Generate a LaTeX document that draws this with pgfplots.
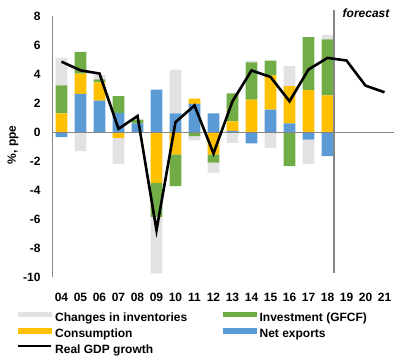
\documentclass[border=0pt]{standalone}
\usepackage{pgfplots}
\usepackage{pgfplotstable}
\pgfplotsset{compat=1.18}
\usepackage{fontspec}
\setmainfont{Liberation Sans}
\definecolor{cinv}{HTML}{E2E2E2}
\definecolor{cgfcf}{HTML}{70AD47}
\definecolor{ccons}{HTML}{FFC000}
\definecolor{cnex}{HTML}{5B9BD5}
\definecolor{caxis}{HTML}{868686}

% x: 0=2004 ... 14=2018 ; ne = net exports, co = consumption, in = investment (GFCF), ci = changes in inventories
\pgfplotstableread{
x ne co in ci
0 -0.35 1.28 1.93 1.90
1 2.63 1.40 1.50 -1.32
2 2.17 1.26 0.20 0.30
3 1.32 -0.40 1.15 -1.79
4 0.60 0.00 0.25 0.00
5 2.93 -3.50 -2.35 -3.90
6 1.28 -1.55 -2.19 3.03
7 1.94 0.37 -0.29 -0.28
8 1.28 -1.55 -0.57 -0.69
9 0.08 0.66 1.92 -0.75
10 -0.79 2.24 2.57 0.12
11 1.55 2.35 1.03 -1.09
12 0.59 2.57 -2.36 1.38
13 -0.52 2.88 3.66 -1.67
14 -1.67 2.52 3.86 0.34
}\comp

\pgfplotstableread{
x gdp
0 4.85
1 4.25
2 4.03
3 0.22
4 1.10
5 -6.77
6 0.68
7 1.83
8 -1.48
9 2.12
10 4.24
11 3.80
12 2.12
13 4.31
14 5.11
15 4.93
16 3.20
17 2.74
}\gdp

\pgfplotsset{
  base/.style={
    width=342pt, height=261pt, scale only axis,
    xmin=-0.5, xmax=17.5, ymin=-10, ymax=8,
    clip=false,
  },
  barbase/.style={base, ybar stacked, bar width=11.7pt},
}

\begin{document}
\begin{tikzpicture}[font=\bfseries\fontsize{12}{14}\selectfont]
\useasboundingbox (-52pt,-82pt) rectangle (355pt,277pt);
% positive parts
\begin{axis}[barbase,
  axis lines*=left,
  x axis line style={draw=none},
  y axis line style={draw=caxis, line width=0.9pt, -},
  xtick={0,1,...,17},
  xticklabels={04,05,06,07,08,09,10,11,12,13,14,15,16,17,18,19,20,21},
  ytick={-10,-8,-6,-4,-2,0,2,4,6,8},
  yticklabels={-10,-8,-6,-4,-2,0,2,4,6,8},
  major tick length=0pt,
  tick label style={font=\bfseries\fontsize{12}{14}\selectfont},
  xticklabel style={anchor=base, yshift=-24.5pt},
  yticklabel style={anchor=east, xshift=-8pt},
  ylabel={\%, ppe},
  every axis y label/.style={at={(axis description cs:-0.114,0.506)}, rotate=90, anchor=center},
]
\addplot[fill=cnex, draw=none] table[x=x, y expr={max(\thisrow{ne},0)}]{\comp};
\addplot[fill=ccons, draw=none] table[x=x, y expr={max(\thisrow{co},0)}]{\comp};
\addplot[fill=cgfcf, draw=none] table[x=x, y expr={max(\thisrow{in},0)}]{\comp};
\addplot[fill=cinv, draw=none] table[x=x, y expr={max(\thisrow{ci},0)}]{\comp};
\end{axis}
% negative parts
\begin{axis}[barbase, hide axis]
\addplot[fill=cnex, draw=none] table[x=x, y expr={min(\thisrow{ne},0)}]{\comp};
\addplot[fill=ccons, draw=none] table[x=x, y expr={min(\thisrow{co},0)}]{\comp};
\addplot[fill=cgfcf, draw=none] table[x=x, y expr={min(\thisrow{in},0)}]{\comp};
\addplot[fill=cinv, draw=none] table[x=x, y expr={min(\thisrow{ci},0)}]{\comp};
\end{axis}
% line, zero line, forecast, legend
\begin{axis}[base, hide axis,
  legend columns=2,
  legend cell align=left,
  legend style={draw=none, fill=none, inner sep=0pt,
    at={(axis description cs:-0.1023,-0.132)}, anchor=north west,
    font=\bfseries\fontsize{12}{14}\selectfont,
    row sep=4.5pt,
    nodes={inner sep=0pt, text height=8.6pt, text depth=2.4pt},
    /tikz/every odd column/.append style={column sep=3pt},
    /tikz/every even column/.append style={column sep=36pt}},
]
\draw[caxis, line width=0.9pt] (axis cs:-0.5,0) -- (axis cs:17.5,0);
\draw[caxis, line width=1.6pt] (axis cs:14.35,8.4) -- (axis cs:14.35,-9.7);
\node[font=\bfseries\itshape\fontsize{12}{14}\selectfont] at (axis cs:16.03,8.17) {forecast};
\addplot[black, line width=2.6pt, mark=none, forget plot] table[x=x, y=gdp]{\gdp};
\addlegendimage{legend image code/.code={\fill[cinv] (0pt,1.6pt) rectangle (33pt,6.4pt);}}
\addlegendentry{Changes in inventories}
\addlegendimage{legend image code/.code={\fill[cgfcf] (0pt,1.6pt) rectangle (33pt,6.4pt);}}
\addlegendentry{Investment (GFCF)}
\addlegendimage{legend image code/.code={\fill[ccons] (0pt,1.6pt) rectangle (33pt,6.4pt);}}
\addlegendentry{Consumption}
\addlegendimage{legend image code/.code={\fill[cnex] (0pt,1.6pt) rectangle (33pt,6.4pt);}}
\addlegendentry{Net exports}
\addlegendimage{legend image code/.code={\draw[black, line width=2pt] (0pt,4pt) -- (33pt,4pt);}}
\addlegendentry{Real GDP growth}
\end{axis}
\end{tikzpicture}
\end{document}
